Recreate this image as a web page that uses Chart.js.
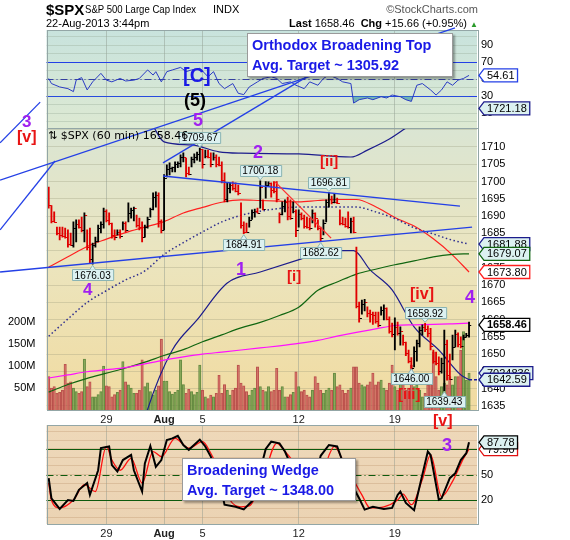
<!DOCTYPE html>
<html>
<head>
<meta charset="utf-8">
<title>$SPX 60 min</title>
<script src="https://cdn.jsdelivr.net/npm/chart.js@4.4.1/dist/chart.umd.min.js"></script>
<style>
  body { margin: 0; background: #fff; }
  #page { position: relative; width: 570px; height: 540px; overflow: hidden; font-family: "Liberation Sans", Arial, sans-serif; }
  #page canvas { position: absolute; left: 0; top: 0; }
  .txt { position: absolute; white-space: nowrap; line-height: 1; z-index: 5; }
  .w { font-weight: bold; }
  .pu { color: #a020f0; }
  .rd { color: #e81414; }
  .box { position: absolute; z-index: 6; background: #fff; border: 1px solid #9a9a9a; box-shadow: 2px 2px 2px rgba(0,0,0,0.35);
         color: #1a1ae6; font: bold 14.5px "Liberation Sans", Arial, sans-serif; line-height: 20px; padding: 1px 4px; white-space: nowrap; }
</style>
</head>
<body>
<div id="page">
  <canvas id="rsi" width="570" height="540"></canvas>
  <canvas id="stoch" width="570" height="540"></canvas>
  <canvas id="price" width="570" height="540"></canvas>

  <div class="txt w" style="left:46px;top:2px;font-size:15px;">$SPX</div>
  <div class="txt" style="left:85px;top:4px;font-size:11px;transform:scaleX(.87);transform-origin:0 0;">S&amp;P 500 Large Cap Index</div>
  <div class="txt" style="left:213px;top:4px;font-size:11px;">INDX</div>
  <div class="txt" style="left:46px;top:18px;font-size:11px;">22-Aug-2013 3:44pm</div>
  <div class="txt" style="right:92px;top:4px;font-size:11px;color:#555;">&copy;StockCharts.com</div>
  <div class="txt" style="right:92px;top:18px;font-size:11px;"><b>Last</b> 1658.46 &nbsp;<b>Chg</b> +15.66 (+0.95%) <span style="color:#2a9a2a;font-size:8px;">&#9650;</span></div>

  <div class="txt" style="left:48px;top:130px;font-size:11px;font-family:'DejaVu Sans',sans-serif;">&#8645; $SPX (60 min) 1658.46</div>

  <div class="box" style="left:247px;top:33px;width:196px;height:40px;">Orthodox Broadening Top<br>Avg. Target ~ 1305.92</div>
  <div class="box" style="left:182px;top:458px;width:164px;height:39px;">Broadening Wedge<br>Avg. Target ~ 1348.00</div>

  <div class="txt w pu" style="left:22px;top:113px;font-size:17px;">3</div>
  <div class="txt w rd" style="left:17px;top:129px;font-size:16px;">[v]</div>
  <div class="txt w" style="left:183px;top:65px;font-size:20px;color:#1a1ae6;">[C]</div>
  <div class="txt w" style="left:184px;top:91px;font-size:18px;">(5)</div>
  <div class="txt w pu" style="left:193px;top:111px;font-size:18px;">5</div>
  <div class="txt w pu" style="left:253px;top:143px;font-size:18px;">2</div>
  <div class="txt w rd" style="left:320px;top:153px;font-size:15px;">[ii]</div>
  <div class="txt w pu" style="left:236px;top:260px;font-size:18px;">1</div>
  <div class="txt w rd" style="left:287px;top:268px;font-size:15px;">[i]</div>
  <div class="txt w pu" style="left:83px;top:281px;font-size:17px;">4</div>
  <div class="txt w rd" style="left:410px;top:286px;font-size:16px;">[iv]</div>
  <div class="txt w pu" style="left:465px;top:288px;font-size:18px;">4</div>
  <div class="txt w rd" style="left:398px;top:386px;font-size:15px;">[iii]</div>
  <div class="txt w rd" style="left:433px;top:413px;font-size:16px;">[v]</div>
  <div class="txt w pu" style="left:442px;top:436px;font-size:18px;">3</div>
</div>

<script>
// ---- data: hourly bars, 24-Jul-2013 .. 22-Aug-2013, 7 bars a session ----
const dayTicks = [21, 42, 56, 91, 126];
const dayLabels = ['29', 'Aug', '5', '12', '19'];

const highs = [
  1698.4, 1693.0, 1691.2, 1686.8, 1686.8, 1686.8, 1686.5,   // Jul 24
  1686.0, 1685.1, 1688.3, 1688.9, 1688.9, 1689.7, 1690.9,   // Jul 25
  1686.0, 1686.5, 1682.2, 1683.9, 1687.4, 1688.3, 1692.3,   // Jul 26
  1691.8, 1690.9, 1688.0, 1686.0, 1686.0, 1686.0, 1688.3,   // Jul 29
  1688.3, 1693.8, 1692.3, 1692.6, 1690.3, 1689.4, 1688.3,   // Jul 30
  1687.4, 1689.7, 1692.3, 1696.7, 1697.0, 1696.7, 1688.9,   // Jul 31
  1702.0, 1704.8, 1705.4, 1704.2, 1705.7, 1705.7, 1707.7,   // Aug 1
  1708.3, 1706.8, 1704.2, 1707.1, 1708.0, 1708.5, 1709.67,  // Aug 2
  1709.3, 1709.1, 1709.1, 1708.3, 1708.3, 1707.7, 1707.1,   // Aug 5
  1705.7, 1702.5, 1699.6, 1699.6, 1699.9, 1699.6, 1699.0,   // Aug 6
  1693.8, 1688.3, 1688.0, 1689.7, 1691.8, 1692.0, 1692.3,   // Aug 7
  1700.18, 1694.7, 1700.0, 1699.9, 1699.6, 1700.0, 1700.0,  // Aug 8
  1690.9, 1694.1, 1694.7, 1695.5, 1694.7, 1694.1, 1691.8,   // Aug 9
  1691.8, 1690.9, 1690.3, 1689.7, 1689.4, 1691.8, 1690.9,   // Aug 12
  1688.9, 1686.8, 1688.9, 1694.7, 1696.81, 1695.8, 1696.4,  // Aug 13
  1695.2, 1691.8, 1689.7, 1689.4, 1691.2, 1689.4, 1689.7,   // Aug 14
  1681.0, 1665.1, 1665.7, 1665.9, 1663.7, 1662.8, 1662.2,   // Aug 15
  1662.2, 1662.2, 1663.7, 1664.3, 1663.4, 1660.8, 1659.0,   // Aug 16
  1660.5, 1659.3, 1657.9, 1655.5, 1653.5, 1651.2, 1649.0,   // Aug 19
  1652.1, 1654.1, 1657.9, 1658.5, 1658.92, 1658.2, 1657.5,  // Aug 20
  1651.2, 1650.6, 1649.2, 1648.9, 1657.0, 1654.1, 1650.0,   // Aug 21
  1655.5, 1657.0, 1656.2, 1655.0, 1655.5, 1656.0, 1659.3    // Aug 22
];
const lows = [
  1692.3, 1688.0, 1688.3, 1684.5, 1683.1, 1683.9, 1683.6,
  1681.0, 1681.5, 1681.0, 1682.5, 1686.5, 1685.4, 1682.5,
  1680.2, 1676.4, 1676.03, 1681.0, 1682.5, 1685.1, 1686.5,
  1688.3, 1687.4, 1683.6, 1683.1, 1684.5, 1683.6, 1686.0,
  1685.4, 1688.3, 1689.4, 1688.6, 1686.8, 1686.0, 1682.5,
  1683.9, 1686.5, 1689.7, 1691.8, 1692.6, 1686.8, 1685.1,
  1686.0, 1701.3, 1701.9, 1702.8, 1702.8, 1704.0, 1704.2,
  1705.7, 1701.3, 1701.9, 1704.2, 1705.4, 1706.2, 1705.8,
  1703.9, 1706.8, 1706.8, 1704.2, 1706.2, 1704.2, 1704.5,
  1699.6, 1694.1, 1694.1, 1696.7, 1697.5, 1697.0, 1696.1,
  1686.5, 1684.91, 1685.2, 1686.8, 1689.0, 1689.7, 1690.9,
  1692.3, 1691.8, 1695.2, 1698.5, 1695.5, 1696.7, 1694.1,
  1688.0, 1690.3, 1691.2, 1688.9, 1689.0, 1690.9, 1684.0,
  1686.8, 1688.9, 1686.5, 1686.5, 1686.0, 1688.0, 1686.8,
  1686.0, 1682.62, 1684.5, 1688.3, 1692.6, 1693.5, 1693.8,
  1693.6, 1687.4, 1687.4, 1686.8, 1686.5, 1685.1, 1685.1,
  1663.4, 1659.3, 1661.6, 1662.5, 1660.8, 1659.3, 1658.6,
  1659.0, 1657.9, 1661.3, 1659.9, 1659.9, 1656.1, 1655.0,
  1651.2, 1655.5, 1652.6, 1652.6, 1649.6, 1647.5, 1646.0,
  1646.3, 1648.0, 1652.1, 1655.5, 1656.5, 1655.0, 1651.2,
  1647.4, 1646.9, 1644.0, 1644.5, 1639.43, 1642.5, 1642.6,
  1648.3, 1652.1, 1652.1, 1651.8, 1654.1, 1654.9, 1654.9
];
const closes = [
  1693.2, 1688.6, 1688.4, 1685.2, 1684.6, 1684.3, 1683.8,
  1682.0, 1681.7, 1686.5, 1687.8, 1686.8, 1686.0, 1690.2,
  1681.0, 1677.5, 1681.5, 1682.8, 1686.5, 1687.8, 1691.6,
  1689.0, 1688.0, 1684.5, 1684.0, 1685.5, 1684.2, 1687.9,
  1686.0, 1691.0, 1691.8, 1692.2, 1687.5, 1686.8, 1684.0,
  1686.8, 1689.2, 1692.0, 1695.5, 1696.2, 1688.5, 1686.0,
  1701.0, 1703.5, 1704.0, 1704.1, 1705.2, 1705.5, 1707.0,
  1707.2, 1702.5, 1702.2, 1706.5, 1707.0, 1708.0, 1709.5,
  1705.0, 1707.5, 1707.0, 1705.0, 1707.2, 1705.2, 1704.9,
  1700.5, 1695.0, 1698.0, 1699.0, 1698.0, 1697.3, 1696.8,
  1687.5, 1685.5, 1685.3, 1689.0, 1691.2, 1691.5, 1691.0,
  1698.5, 1692.0, 1699.0, 1699.5, 1697.5, 1697.2, 1695.0,
  1690.5, 1693.0, 1694.0, 1690.0, 1689.5, 1691.5, 1686.0,
  1690.5, 1689.5, 1687.0, 1686.8, 1686.5, 1690.8, 1689.5,
  1686.5, 1683.5, 1688.0, 1694.0, 1695.0, 1694.0, 1694.2,
  1693.9, 1688.0, 1687.6, 1687.2, 1686.8, 1688.5, 1685.4,
  1664.0, 1660.5, 1664.5, 1665.0, 1662.0, 1661.5, 1661.3,
  1659.6, 1658.5, 1662.8, 1663.5, 1660.2, 1656.8, 1655.8,
  1658.0, 1656.0, 1656.8, 1653.5, 1650.2, 1648.0, 1646.1,
  1651.0, 1653.2, 1657.0, 1658.0, 1657.2, 1656.0, 1652.4,
  1648.0, 1647.5, 1645.0, 1647.5, 1653.0, 1644.0, 1642.8,
  1652.0, 1655.8, 1653.0, 1652.5, 1655.0, 1655.5, 1658.46
];
// volume, millions of shares
const volumes = [
  76, 50, 53, 38, 40, 45, 104,   61, 64, 50, 42, 38, 42, 116,   53, 64, 30, 30, 35, 42, 100,
  55, 53, 30, 35, 40, 45, 110,   64, 57, 50, 38, 38, 45, 114,   53, 62, 42, 34, 45, 55, 161,
  66, 66, 42, 36, 40, 45, 114,   58, 38, 47, 42, 35, 40, 102,   45, 30, 26, 34, 30, 38, 79,
  38, 58, 45, 34, 45, 50, 102,   61, 55, 42, 34, 45, 50, 98,    53, 45, 42, 53, 42, 45, 95,
  45, 53, 30, 30, 35, 40, 87,    53, 42, 45, 34, 30, 45, 76,    61, 45, 38, 45, 50, 45, 84,
  53, 57, 45, 38, 45, 50, 98,    98, 61, 57, 53, 57, 64, 84,    57, 64, 68, 50, 45, 61, 102,
  53, 45, 64, 61, 45, 50, 102,   53, 57, 45, 30, 38, 57, 76,    132, 76, 45, 53, 61, 57, 76,
  57, 76, 76, 136, 178, 68, 84
];

// overlays sampled once a session (bar index -> value)
const maIdx = [0, 7, 14, 21, 28, 35, 42, 49, 56, 63, 70, 77, 84, 91, 98, 105, 112, 119, 126, 133, 140, 147, 153];
const maRed = [1675.2, 1678.2, 1681.2, 1683.3, 1685.2, 1686.8, 1688.4, 1690.9, 1692.5, 1694.0, 1694.7, 1694.5,
               1694.3, 1694.1, 1694.5, 1694.8, 1694.8, 1692.7, 1689.6, 1687.1, 1683.4, 1678.7, 1673.80];
const maDotted = [1655.2, 1660.2, 1665.0, 1668.4, 1671.5, 1674.1, 1678.9, 1682.3, 1685.4, 1688.3, 1690.2, 1691.4,
                  1692.2, 1692.6, 1692.6, 1692.6, 1692.6, 1691.2, 1689.3, 1686.6, 1684.8, 1683.0, 1681.88];
const maGreen = [1639.0, 1641.2, 1643.0, 1644.5, 1646.0, 1647.7, 1649.6, 1651.3, 1653.6, 1655.6, 1657.6, 1659.2,
                 1661.2, 1663.6, 1668.5, 1670.9, 1673.2, 1674.6, 1675.9, 1677.0, 1678.2, 1678.9, 1679.07];
const maMagenta = [1643.1, 1644.0, 1644.9, 1645.5, 1646.1, 1647.2, 1648.3, 1649.2, 1650.0, 1650.6, 1651.2, 1651.8,
                   1652.4, 1653.1, 1654.0, 1655.2, 1656.3, 1657.3, 1658.3, 1658.5, 1658.6, 1658.8, 1659.0];
const chanLoIdx = [34, 36, 45, 54, 65, 77, 92, 102, 111, 117, 125, 133, 142, 150, 153];
const chanLo = [1628, 1634, 1651.2, 1659.9, 1670.6, 1673.8, 1677.6, 1680.0, 1680.0, 1674.4, 1668.6, 1657.9, 1651.2, 1644.0, 1642.59];
const chanHiIdx = [38, 42, 52, 62, 70, 91, 110, 116, 124, 130, 136, 153];
const chanHi = [1716, 1711.5, 1710.6, 1708.6, 1708.2, 1708.0, 1707.1, 1709.1, 1712.3, 1715.5, 1719.0, 1721.18];

// RSI (top panel)
const rsiIdx = [0, 1, 4, 7, 9, 10, 12, 14, 16, 19, 21, 23, 26, 28, 31, 33, 36, 38, 39, 41, 43, 45, 48, 50, 52, 55, 58, 60, 62, 64,
                67, 69, 71, 73, 76, 78, 81, 83, 85, 88, 90, 93, 95, 98, 100, 102, 105, 107, 110, 111, 113, 116, 118, 121, 123, 125,
                128, 130, 132, 134, 136, 139, 141, 143, 145, 147, 149, 151, 153];
const rsiVal = [51, 45, 41, 39, 35.5, 49, 52, 37.5, 47, 57, 49, 47, 51, 48, 49, 51, 61, 55, 59, 47, 59, 61, 64, 59, 61, 63, 53, 59, 45, 39,
                45, 33.5, 32, 41, 47, 51, 53, 51, 45, 47, 43, 39, 47, 43, 51, 55, 51, 47, 45, 22, 26, 28, 26, 29.5, 28, 31.5,
                29.5, 26, 24, 43, 45, 37.5, 31.5, 37.5, 47, 43, 49, 51, 54.61];

// Slow stochastics (bottom panel)
const stoKIdx = [0, 1, 4, 7, 9, 11, 14, 15, 18, 19, 22, 23, 25, 27, 30, 31, 34, 35, 37, 39, 41, 43, 45, 47, 49, 51, 55, 57, 59, 62,
                 64, 68, 71, 74, 77, 79, 81, 84, 86, 89, 91, 94, 97, 99, 102, 105, 107, 109, 110, 113, 115, 118, 122, 125, 127, 128,
                 130, 133, 135, 138, 139, 142, 143, 146, 148, 150, 152, 153];
const stoK = [45.7, 22, 9.5, 20, 19, 32, 40, 26, 55, 81, 83, 61, 53.5, 67, 73, 55, 30, 63, 83.5, 59, 67, 90.5, 92.5, 95.5, 84.7, 79, 91, 83, 71, 45,
              14.5, 12, 9, 18.5, 55, 80, 88.6, 86.6, 77, 55, 38, 30, 45, 72, 84.7, 83, 65, 59, 40, 22, 8.7, 12, 9.5, 10.7, 26, 30,
              16.5, 8, 36, 77, 73, 20.4, 22, 45.7, 51.6, 67, 75, 87.78];
const stoDIdx = [0, 1, 4, 9, 13, 17, 21, 23, 26, 30, 34, 38, 41, 46, 51, 56, 59, 62, 66, 70, 73, 78, 83, 86, 90, 93, 97, 100, 104, 107,
                 114, 117, 122, 127, 129, 132, 136, 139, 143, 147, 151, 153];
const stoD = [40, 20, 10.7, 20, 38, 30, 83, 67, 55, 69, 40, 77, 71, 92.5, 81, 88.6, 75, 55, 20, 12, 13, 45, 86.6, 77, 60, 38, 35, 55, 83, 67,
              26, 10.7, 12, 20, 27, 14.5, 44, 73, 24, 42, 69, 79.90];

const volTagText = '7024836';

// ---- helpers ----
const X_MIN = -0.8, X_MAX = 155.9;
const FONT = '"Liberation Sans", Arial, sans-serif';
Chart.defaults.font.family = FONT;
Chart.defaults.font.size = 11;
Chart.defaults.color = '#000';
Chart.defaults.animation = false;
Chart.defaults.plugins.legend.display = false;
Chart.defaults.plugins.tooltip.enabled = false;

const pairs = (idx, vals) => idx.map((x, k) => ({ x, y: vals[k] }));
const last = a => a[a.length - 1];
const isUp = i => i > 0 ? closes[i] >= closes[i - 1] : closes[0] >= (highs[0] + lows[0]) / 2;

function xAxis(height, showLabels) {
  return {
    type: 'linear', min: X_MIN, max: X_MAX, offset: false,
    afterBuildTicks: s => { s.ticks = dayTicks.map(v => ({ value: v })); },
    afterFit: s => { s.height = height; },
    grid: { color: 'rgba(140,150,140,0.45)', drawTicks: false, offset: false },
    border: { display: false },
    ticks: {
      display: showLabels, padding: 3, color: '#222', autoSkip: false, maxRotation: 0,
      callback: v => dayLabels[dayTicks.indexOf(v)],
      font: c => ({ size: 11, weight: c.index === 1 ? 'bold' : 'normal' })
    }
  };
}

function drawTag(ctx, x, y, text, o) {
  ctx.save();
  ctx.font = (o.bold ? 'bold ' : '') + '11px ' + FONT;
  const w = ctx.measureText(text).width + 6;
  ctx.beginPath();
  ctx.moveTo(x, y);
  ctx.lineTo(x + 5, y - 6.5);
  ctx.lineTo(x + 5 + w, y - 6.5);
  ctx.lineTo(x + 5 + w, y + 6.5);
  ctx.lineTo(x + 5, y + 6.5);
  ctx.closePath();
  ctx.fillStyle = o.fill;
  ctx.fill();
  ctx.lineWidth = 1.3;
  ctx.strokeStyle = o.stroke;
  ctx.stroke();
  ctx.fillStyle = '#000';
  ctx.textBaseline = 'middle';
  ctx.fillText(text, x + 8, y + 0.5);
  ctx.restore();
}

function drawCallout(ctx, x, y, text, below) {
  ctx.save();
  ctx.font = '10px ' + FONT;
  const w = ctx.measureText(text).width + 5, h = 11, gap = 5;
  const top = below ? y + gap : y - gap - h;
  const left = Math.round(x - w / 2) + 0.5;
  ctx.fillStyle = '#dcf1f1';
  ctx.strokeStyle = '#8ab4b4';
  ctx.lineWidth = 1;
  ctx.beginPath();
  ctx.rect(left, Math.round(top) + 0.5, w, h);
  ctx.fill();
  ctx.stroke();
  ctx.beginPath();
  if (below) { ctx.moveTo(x - 3, top + 0.5); ctx.lineTo(x, y + 1); ctx.lineTo(x + 3, top + 0.5); }
  else { ctx.moveTo(x - 3, top + h + 0.5); ctx.lineTo(x, y - 1); ctx.lineTo(x + 3, top + h + 0.5); }
  ctx.fill();
  ctx.stroke();
  ctx.fillStyle = '#000';
  ctx.textAlign = 'center';
  ctx.textBaseline = 'middle';
  ctx.fillText(text, x, top + h / 2 + 1);
  ctx.restore();
}

const panel = {
  id: 'panel',
  beforeDraw(chart, args, o) {
    const { ctx, chartArea: a } = chart;
    const g = ctx.createLinearGradient(0, a.top, 0, a.bottom);
    o.stops.forEach(([p, c]) => g.addColorStop(p, c));
    ctx.save();
    ctx.fillStyle = g;
    ctx.fillRect(a.left, a.top, a.right - a.left, a.bottom - a.top);
    ctx.restore();
  },
  beforeDatasetsDraw(chart, args, o) {
    const { ctx, chartArea: a } = chart;
    const ys = chart.scales.y;
    (o.levels || []).forEach(l => {
      const y = Math.round(ys.getPixelForValue(l.v)) + 0.5;
      ctx.save();
      ctx.strokeStyle = l.color;
      ctx.lineWidth = 1.2;
      ctx.setLineDash(l.dash || []);
      ctx.beginPath();
      ctx.moveTo(a.left, y);
      ctx.lineTo(a.right, y);
      ctx.stroke();
      ctx.restore();
    });
  },
  afterDraw(chart, args, o) {
    const { ctx, chartArea: a } = chart;
    ctx.save();
    ctx.strokeStyle = '#93a6a6';
    ctx.lineWidth = 1;
    ctx.strokeRect(Math.round(a.left) + 0.5, Math.round(a.top) + 0.5, Math.round(a.right - a.left), Math.round(a.bottom - a.top));
    ctx.restore();
    (o.tags || []).forEach(t => {
      const ys = chart.scales[t.axis || 'y'];
      drawTag(ctx, a.right + 2, ys.getPixelForValue(t.v), t.text || t.v.toFixed(2), t);
    });
  }
};

const ohlc = {
  id: 'ohlc',
  afterDatasetsDraw(chart) {
    const { ctx, chartArea: a } = chart;
    const xs = chart.scales.x, ys = chart.scales.y;
    ctx.save();
    ctx.beginPath();
    ctx.rect(a.left, a.top, a.right - a.left, a.bottom - a.top);
    ctx.clip();
    ctx.lineWidth = 1;
    closes.forEach((c, i) => {
      const x = xs.getPixelForValue(i);
      ctx.strokeStyle = isUp(i) ? '#000' : '#e00000';
      ctx.beginPath();
      if (i > 0) {
        const yo = Math.round(ys.getPixelForValue(closes[i - 1])) + 0.5;
        ctx.moveTo(x - 2, yo); ctx.lineTo(x, yo);
      }
      const yc = Math.round(ys.getPixelForValue(c)) + 0.5;
      ctx.moveTo(x, yc); ctx.lineTo(x + 2.2, yc);
      ctx.stroke();
    });
    ctx.restore();
  }
};

const notes = {
  id: 'notes',
  afterDraw(chart, args, o) {
    const { ctx, chartArea: a } = chart;
    const xs = chart.scales.x, ys = chart.scales.y;
    ctx.save();
    o.lines.forEach(l => {
      ctx.strokeStyle = l.color;
      ctx.lineWidth = 1.3;
      ctx.beginPath();
      ctx.moveTo(xs.getPixelForValue(l.from[0]), ys.getPixelForValue(l.from[1]));
      ctx.lineTo(xs.getPixelForValue(l.to[0]), ys.getPixelForValue(l.to[1]));
      ctx.stroke();
    });
    // dashed extension of the lower channel to its axis tag
    const yl = ys.getPixelForValue(last(chanLo));
    ctx.strokeStyle = '#1a1a9a';
    ctx.setLineDash([3, 2]);
    ctx.beginPath();
    ctx.moveTo(xs.getPixelForValue(last(chanLoIdx)), yl);
    ctx.lineTo(a.right, yl);
    ctx.stroke();
    ctx.restore();
    o.callouts.forEach(i => {
      const atLow = lows[i] <= Math.min(...lows.slice(Math.max(0, i - 3), i + 4));
      const v = atLow ? lows[i] : highs[i];
      drawCallout(ctx, xs.getPixelForValue(i), ys.getPixelForValue(v), v.toFixed(2), atLow);
    });
  }
};

const BLUE = '#2440e6';

// ---- RSI panel ----
new Chart(document.getElementById('rsi'), {
  type: 'line',
  data: {
    datasets: [{
      data: pairs(rsiIdx, rsiVal),
      borderColor: '#2b3cc4', borderWidth: 1, pointRadius: 0,
      fill: { target: { value: 30 }, above: 'rgba(0,0,0,0)', below: 'rgba(70,160,165,0.7)' }
    }]
  },
  options: {
    responsive: false,
    layout: { padding: { top: 30, left: 46.5 } },
    scales: {
      x: xAxis(412, false),
      y: {
        position: 'right', min: -7.3, max: 108,
        afterFit: s => { s.width = 93; },
        grid: { color: 'rgba(150,170,150,0.35)', drawTicks: false },
        border: { display: false },
        ticks: { stepSize: 10, padding: 4, includeBounds: false, autoSkip: false,
                 callback: v => [10, 30, 50, 70, 90].includes(v) ? v : '' }
      }
    },
    plugins: {
      panel: {
        stops: [[0, '#c8e3dd'], [1, '#dde9d2']],
        levels: [{ v: 70, color: BLUE }, { v: 30, color: BLUE }, { v: 50, color: '#3440a0', dash: [7, 3, 1, 3] }],
        tags: [{ v: last(rsiVal), stroke: BLUE, fill: '#fff' }]
      }
    }
  },
  plugins: [panel]
});

// ---- Stochastics panel ----
new Chart(document.getElementById('stoch'), {
  type: 'line',
  data: {
    datasets: [
      { data: pairs(stoKIdx, stoK), borderColor: '#000', borderWidth: 2, pointRadius: 0, order: 1 },
      { data: pairs(stoDIdx, stoD), borderColor: '#ff1010', borderWidth: 1.3, pointRadius: 0, order: 2, cubicInterpolationMode: 'monotone' }
    ]
  },
  options: {
    responsive: false,
    layout: { padding: { top: 425, left: 46.5 } },
    scales: {
      x: xAxis(16, true),
      y: {
        position: 'right', min: -8.2, max: 108.2,
        afterFit: s => { s.width = 93; },
        grid: { color: 'rgba(190,150,110,0.35)', drawTicks: false },
        border: { display: false },
        ticks: { stepSize: 10, padding: 4, includeBounds: false, autoSkip: false,
                 callback: v => [20, 50, 80].includes(v) ? v : '' }
      }
    },
    plugins: {
      panel: {
        stops: [[0, '#eed8b9'], [1, '#ebd3b3']],
        levels: [{ v: 80, color: '#0d5a0d' }, { v: 20, color: '#0d5a0d' }, { v: 50, color: '#0d5a0d', dash: [7, 3, 1, 3] }],
        tags: [
          { v: last(stoD), stroke: '#e01010', fill: '#fff' },
          { v: last(stoK), stroke: '#000', fill: '#dcf1f1' }
        ]
      }
    }
  },
  plugins: [panel]
});

// ---- Price panel ----
const lineDs = (idx, vals, color, extra) => Object.assign({
  type: 'line', data: pairs(idx, vals), borderColor: color, borderWidth: 1.2,
  pointRadius: 0, cubicInterpolationMode: 'monotone', order: 5
}, extra || {});

new Chart(document.getElementById('price'), {
  type: 'bar',
  data: {
    datasets: [
      {
        type: 'bar', yAxisID: 'yVol', grouped: false, order: 10, barThickness: 2.4,
        data: volumes.map((v, i) => ({ x: i, y: v })),
        backgroundColor: volumes.map((v, i) => isUp(i) ? 'rgba(110,160,70,0.6)' : 'rgba(210,90,90,0.6)'),
        borderColor: volumes.map((v, i) => isUp(i) ? 'rgba(80,120,50,0.85)' : 'rgba(170,60,60,0.85)'),
        borderWidth: 0.6
      },
      lineDs(maIdx, maMagenta, '#ff10ff'),
      lineDs(maIdx, maGreen, '#116611'),
      lineDs(chanLoIdx, chanLo, '#1c1c8c'),
      lineDs(chanHiIdx, chanHi, '#1c1c8c'),
      lineDs(maIdx, maDotted, '#2c2c8e', { borderDash: [1.5, 2.5], borderWidth: 1.5 }),
      lineDs(maIdx, maRed, '#ff2020'),
      {
        type: 'bar', yAxisID: 'y', grouped: false, order: 1, barThickness: 1.2,
        data: highs.map((h, i) => ({ x: i, y: [lows[i], h] })),
        backgroundColor: closes.map((c, i) => isUp(i) ? '#000' : '#e00000')
      }
    ]
  },
  options: {
    responsive: false,
    layout: { padding: { top: 128 } },
    scales: {
      x: xAxis(130, true),
      y: {
        position: 'right', min: 1633.83, max: 1715.5,
        afterFit: s => { s.width = 93; },
        grid: { color: 'rgba(150,150,120,0.3)', drawTicks: false },
        border: { display: false },
        ticks: { stepSize: 5, padding: 4, includeBounds: false, autoSkip: false, callback: v => v <= 1710 ? v : '' }
      },
      yVol: {
        position: 'left', min: 0, max: 641,
        afterFit: s => { s.width = 46.5; },
        grid: { display: false },
        border: { display: false },
        ticks: { stepSize: 50, padding: 3, includeBounds: false, autoSkip: false,
                 callback: v => (v >= 50 && v <= 200) ? v + 'M' : '' }
      }
    },
    plugins: {
      panel: {
        stops: [[0, '#dae5d3'], [0.45, '#ebe5bf'], [1, '#f1dba0']],
        tags: [
          { v: last(chanHi), stroke: '#1c1c8c', fill: '#dcf1f1' },
          { v: last(maDotted), stroke: '#1c1c8c', fill: '#dcf1f1' },
          { v: last(maGreen), stroke: '#116611', fill: '#dcf1f1' },
          { v: last(maRed), stroke: '#ff2020', fill: '#fff' },
          { v: last(closes), stroke: '#000', fill: '#fff', bold: true },
          { axis: 'yVol', v: last(volumes), text: volTagText, stroke: '#1c1c8c', fill: '#dcf1f1' },
          { v: last(chanLo), stroke: '#1c1c8c', fill: '#dcf1f1' }
        ]
      },
      notes: {
        lines: [
          { from: [-17.7, 1700.4], to: [147.9, 1744.5], color: BLUE },
          { from: [41.6, 1705.4], to: [96.2, 1731.4], color: BLUE },
          { from: [-17.7, 1686.0], to: [2.3, 1705.95], color: BLUE },
          { from: [-17.7, 1711.2], to: [-3.1, 1723.0], color: BLUE },
          { from: [-17.7, 1673.8], to: [154.1, 1686.8], color: BLUE },
          { from: [41.6, 1701.6], to: [149.7, 1692.9], color: BLUE },
          { from: [82.4, 1699.9], to: [102.8, 1683.6], color: '#ff3030' }
        ],
        callouts: [16, 55, 71, 77, 99, 102, 132, 137, 144]
      }
    }
  },
  plugins: [panel, ohlc, notes]
});
</script>
</body>
</html>
